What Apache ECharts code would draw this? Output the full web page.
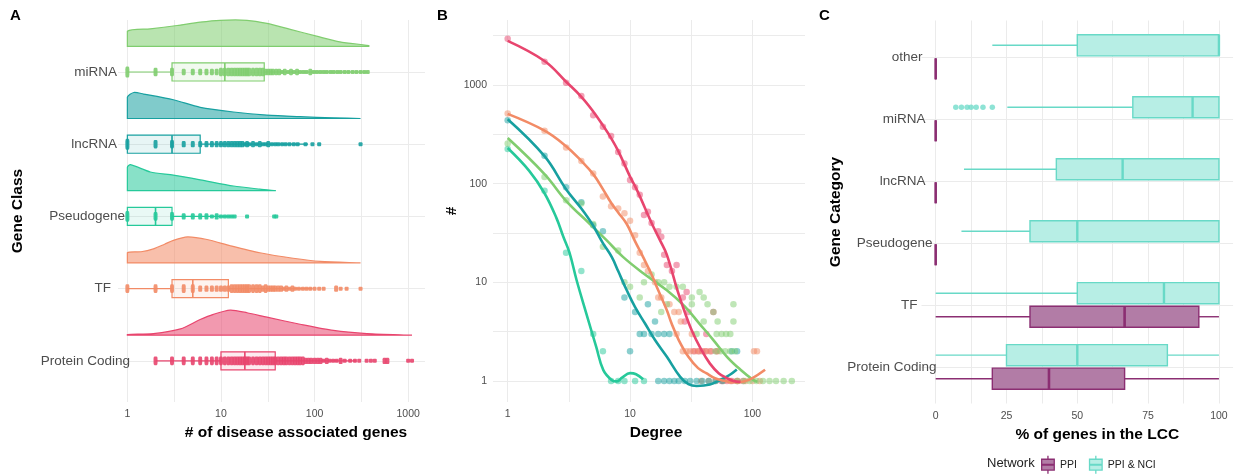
<!DOCTYPE html>
<html>
<head>
<meta charset="utf-8">
<script src="https://cdn.jsdelivr.net/npm/echarts@6/dist/echarts.min.js"></script>
<style>
  html, body { margin: 0; padding: 0; background: #ffffff; }
  #chart { width: 1235px; height: 475px; }
</style>
</head>
<body>
<div id="chart"></div>
<script>
// ---------- Panel A: disease-associated genes per gene class ----------
const geneClasses = ['Protein Coding', 'TF', 'Pseudogene', 'lncRNA', 'miRNA'];
const classColors = ['#e8456e', '#f28b66', '#26c99a', '#17a0a0', '#80cd6f'];

// box summaries: [min, q1, median, q3, upper whisker]
const pcBox = [2, 10, 18, 38, 280];
const tfBox = [1, 3, 5, 12, 95];
const pseudoBox = [1, 1, 2, 3, 14];
const lncBox = [1, 1, 3, 6, 85];
const mirBox = [1, 3, 11, 29, 370];

// density outlines: [genes, relative height]
const pcDensity = [[1, 0.025], [1.9, 0.06], [3.7, 0.24], [6, 0.6], [8.3, 0.8], [12.6, 0.96], [19, 0.86], [31, 0.69], [70, 0.42], [159, 0.18], [363, 0.06], [1100, 0]];
const tfDensity = [[1, 0.39], [1.4, 0.43], [1.9, 0.54], [2.5, 0.72], [3.1, 0.87], [4.4, 1], [7.1, 0.9], [12.6, 0.66], [26, 0.39], [59, 0.18], [115, 0.06], [310, 0]];
const pseudoDensity = [[1, 0.9], [1.08, 1], [1.76, 0.72], [3.1, 0.6], [6, 0.42], [13.6, 0.18], [26, 0.06], [38.6, 0]];
const lncDensity = [[1, 0.82], [1.17, 1], [1.49, 0.94], [3.1, 0.72], [6, 0.43], [13.6, 0.25], [31, 0.13], [70, 0.07], [159, 0.025], [310, 0]];
const mirDensity = [[1, 0.58], [1.76, 0.67], [3.4, 0.8], [6, 0.93], [9.8, 1], [19, 1], [31, 0.88], [55, 0.65], [105, 0.39], [186, 0.17], [380, 0.03]];

// observed genes per disease: [genes, number of diseases stacked there]
const pcPoints = [[2, 3], [3, 3], [4, 3], [5, 3], [6, 3], [7, 3], [8, 3], [9, 3], [10, 3], [11, 3], [12, 3], [13, 3], [14, 3], [15, 3], [16, 3], [17, 3], [18, 3], [19, 3], [20, 3], [22, 3], [24, 3], [26, 3], [28, 3], [30, 3], [32, 3], [34, 3], [36, 3], [38, 3], [41, 3], [44, 3], [47, 3], [50, 3], [54, 3], [58, 3], [62, 3], [66, 3], [70, 3], [75, 3], [80, 2], [86, 2], [92, 2], [100, 2], [108, 2], [116, 2], [125, 1], [135, 2], [145, 1], [158, 1], [172, 1], [190, 2], [210, 1], [240, 1], [270, 1], [300, 1], [360, 1], [400, 1], [440, 1], [560, 2], [600, 2], [1000, 1], [1100, 1]];
const tfPoints = [[1, 3], [2, 3], [3, 3], [4, 3], [5, 3], [6, 2], [7, 2], [8, 2], [9, 2], [10, 2], [11, 2], [12, 2], [13, 3], [14, 3], [15, 3], [16, 3], [17, 3], [18, 3], [19, 3], [20, 3], [22, 3], [24, 3], [26, 3], [28, 2], [30, 3], [32, 2], [34, 2], [36, 2], [38, 2], [41, 2], [44, 2], [47, 1], [50, 2], [54, 1], [58, 2], [62, 1], [68, 1], [75, 1], [82, 1], [90, 1], [100, 1], [112, 1], [125, 1], [170, 2], [190, 1], [220, 1], [310, 1]];
const pseudoPoints = [[1, 4], [2, 3], [3, 3], [4, 2], [5, 2], [6, 2], [7, 2], [8, 1], [9, 2], [10, 1], [11, 1], [12, 1], [13, 1], [14, 1], [19, 1], [37, 1], [39, 1]];
const lncPoints = [[1, 4], [2, 3], [3, 3], [4, 2], [5, 2], [6, 2], [7, 2], [8, 2], [9, 2], [10, 2], [11, 2], [12, 2], [13, 2], [14, 2], [15, 2], [16, 2], [17, 2], [18, 1], [19, 2], [20, 1], [22, 2], [24, 1], [26, 2], [28, 1], [30, 1], [32, 2], [35, 1], [38, 1], [41, 1], [45, 1], [49, 1], [54, 1], [60, 1], [66, 1], [80, 1], [95, 1], [112, 1], [310, 1]];
const mirPoints = [[1, 4], [2, 3], [3, 3], [4, 2], [5, 2], [6, 2], [7, 2], [8, 2], [9, 2], [10, 3], [11, 3], [12, 3], [13, 3], [14, 3], [15, 3], [16, 3], [17, 3], [18, 3], [19, 3], [20, 3], [22, 3], [24, 3], [26, 3], [28, 3], [30, 2], [32, 2], [34, 2], [36, 2], [39, 2], [42, 2], [45, 1], [48, 2], [52, 1], [56, 2], [60, 1], [65, 2], [70, 1], [76, 1], [82, 1], [90, 2], [98, 1], [106, 1], [115, 1], [125, 1], [135, 1], [148, 1], [160, 1], [175, 1], [190, 1], [210, 1], [230, 1], [255, 1], [280, 1], [310, 1], [340, 1], [370, 1]];

// ---------- Panel B: degree distributions (degree, number of genes) ----------
const pcDegree = [[1, 2940], [2, 1720], [3, 1055], [4, 775], [5, 494], [6, 377], [7, 305], [8, 210], [9, 160], [10, 109], [11, 92], [12, 77], [13, 48], [14, 52], [15, 40], [17, 33], [18, 29], [19, 19], [20, 15], [22, 13], [24, 15], [29, 8], [27, 7], [30, 5], [48, 5], [28, 4], [42, 3], [33, 2], [36, 2], [39, 2], [42, 2], [46, 2], [51, 2], [56, 1], [62, 1], [68, 1], [75, 1], [84, 1]];
const tfDegree = [[1, 513], [2, 343], [3, 233], [4, 170], [5, 127], [6, 74], [7, 59], [8, 56], [9, 50], [10, 42], [11, 30], [12, 20], [13, 15], [14, 13], [16, 10], [17, 7], [18, 7], [21, 6], [23, 5], [25, 5], [26, 4], [24, 3], [32, 3], [27, 2], [29, 2], [31, 2], [34, 2], [37, 2], [41, 2], [45, 2], [52, 2], [103, 2], [109, 2], [38, 1], [44, 1], [50, 1], [58, 1], [66, 1], [76, 1], [88, 1], [100, 1], [115, 1]];
const lncDegree = [[1, 440], [2, 192], [3, 92], [4, 65], [5, 38], [6, 33], [9, 7], [14, 6], [11, 5], [16, 4], [12, 3], [13, 3], [15, 3], [17, 3], [19, 3], [21, 3], [10, 2], [68, 2], [75, 2], [17, 1], [19, 1], [21, 1], [23, 1], [25, 1], [28, 1], [31, 1], [35, 1], [39, 1], [44, 1], [50, 1], [57, 1]];
const pseudoDegree = [[1, 224], [2, 85], [3, 20], [4, 13], [5, 3], [6, 2], [7, 1], [8, 1], [9, 1], [11, 1], [13, 1]];
const mirDegree = [[1, 255], [2, 117], [3, 68], [4, 63], [5, 39], [6, 23], [8, 21], [9, 10], [10, 9], [12, 7], [13, 10], [15, 12], [17, 10], [19, 10], [21, 9], [24, 9], [27, 9], [32, 7], [37, 8], [40, 7], [18, 5], [20, 6], [32, 6], [43, 6], [70, 6], [48, 5], [40, 4], [52, 4], [70, 4], [35, 3], [51, 3], [56, 3], [61, 3], [66, 3], [50, 2], [55, 2], [60, 2], [66, 2], [72, 2], [75, 1], [85, 1], [95, 1], [108, 1], [122, 1], [138, 1], [156, 1], [180, 1], [210, 1]];

// smoothed trends through each distribution
const pcTrend = [[1, 2800], [2, 1750], [3, 1080], [4, 760], [5, 540], [6, 390], [7, 290], [8, 215], [10, 118], [11.5, 84], [15, 40], [17.6, 26.6], [20, 19], [24.4, 8.3], [28, 5], [31.9, 3.27], [38, 2.1], [45, 1.5], [53, 1.2], [62, 1.07], [70, 1.0], [80, 0.98]];
const tfTrend = [[1, 510], [2, 345], [3, 240], [4, 170], [5, 125], [6, 88], [7, 64], [8, 51], [9.4, 39], [11, 26], [12.8, 18], [15, 12], [17, 8.3], [20, 5.2], [21.9, 3.8], [25, 2.6], [30, 1.76], [36, 1.35], [42, 1.2], [50, 1.06], [60, 1.0], [70, 0.97], [85, 0.99], [100, 1.07], [127, 1.3]];
const lncTrend = [[1, 450], [2, 190], [3, 88], [4, 56], [4.9, 39], [6, 25], [7.1, 18], [8, 13], [9.4, 8.3], [11, 5.6], [13.3, 3.8], [16, 2.6], [20, 1.76], [25.7, 1.1], [30, 0.93], [35, 0.89], [45, 0.92], [55, 1.03], [65, 1.15], [74.6, 1.31]];
const pseudoTrend = [[1, 230], [1.5, 135], [2, 80], [2.5, 45], [2.85, 29], [3.2, 20], [3.66, 10.5], [4.4, 4.8], [5.3, 2.2], [6.05, 1.29], [7.1, 1.02], [7.8, 0.99], [8.6, 1.08], [10, 1.2], [11.2, 1.17], [12.8, 1.04]];
const mirTrend = [[1, 290], [2, 125], [3, 67], [4.7, 39], [6.45, 26.6], [8.8, 18], [12.9, 12.3], [20, 8.3], [28, 5.7], [37, 3.8], [48, 2.6], [62, 1.76], [80, 1.3], [102, 1.02], [110, 0.98]];

// ---------- Panel C: % of genes in the LCC ----------
const lccCategories = ['Protein Coding', 'TF', 'Pseudogene', 'lncRNA', 'miRNA', 'other'];
// [min, q1, median, q3, max] per category, bottom to top
const ppiStats = [[0, 20, 40, 66.7, 100], [0, 33.3, 66.7, 92.9, 100], [0, 0, 0, 0, 0], [0, 0, 0, 0, 0], [0, 0, 0, 0, 0], [0, 0, 0, 0, 0]];
const ppiNciStats = [[0, 25, 50, 81.8, 100], [0, 50, 80.6, 100, 100], [9.1, 33.3, 50, 100, 100], [10, 42.6, 66, 100, 100], [25.3, 69.6, 90.7, 100, 100], [20, 50, 100, 100, 100]];
const mirOutliers = [7.1, 9.1, 11.1, 12.5, 14.3, 16.7, 20];

// tick positions
const logTicksA = [0, 0.5, 1, 1.5, 2, 2.5, 3];
const logLabelsA = [0, 1, 2, 3];
const logTicksBx = [0, 0.5, 1, 1.5, 2];
const logLabelsBx = [0, 1, 2];
const logTicksBy = [0, 0.5, 1, 1.5, 2, 2.5, 3, 3.5];
const logLabelsBy = [0, 1, 2, 3];
const pctTicks = [0, 12.5, 25, 37.5, 50, 62.5, 75, 87.5, 100];
const pctLabels = [0, 25, 50, 75, 100];

// ---------- styling helpers ----------
const FONT = '"Liberation Sans", Arial, Helvetica, sans-serif';
const GRID_LINE = { show: true, lineStyle: { color: '#ebebeb', width: 1 } };
const TICK_TEXT = { color: '#4d4d4d', fontSize: 10.5, fontFamily: FONT };
const TITLE_TEXT = { color: '#000', fontSize: 15.5, fontWeight: 'bold', fontFamily: FONT };
const RIDGE_OFFSET = 0.356;
const RIDGE_HEIGHT = 0.36;
const A_BOX_HALF = 0.125;
const C_BOX_HALF = 0.17;
const C_DODGE = 0.19;
const PPI_STROKE = '#8b2e72', PPI_FILL = '#b27ca6';
const NCI_STROKE = '#68d9c7', NCI_FILL = '#b7eee5';

function tint(hex, a) {
  const n = parseInt(hex.slice(1), 16);
  return `rgba(${(n >> 16) & 255},${(n >> 8) & 255},${n & 255},${a})`;
}
const log10 = Math.log10;
const powLabel = v => String(Math.round(Math.pow(10, v)));

const classBoxes = [pcBox, tfBox, pseudoBox, lncBox, mirBox];
const classDensities = [pcDensity, tfDensity, pseudoDensity, lncDensity, mirDensity];
const classPoints = [pcPoints, tfPoints, pseudoPoints, lncPoints, mirPoints];
const classDegrees = [pcDegree, tfDegree, pseudoDegree, lncDegree, mirDegree];
const classTrends = [pcTrend, tfTrend, pseudoTrend, lncTrend, mirTrend];

// a horizontal box with whiskers, positioned through the axis scales
function drawBox(api, o) {
  const cat = api.value(0);
  const v = [api.value(1), api.value(2), api.value(3), api.value(4), api.value(5)];
  const unit = api.size([0, 1])[1];
  const yc = api.coord([v[2], cat + o.offset])[1];
  const half = o.half * unit;
  const px = v.map(d => api.coord([d, cat])[0]);
  const line = (x1, y1, x2, y2, w) => ({ type: 'line', shape: { x1, y1, x2, y2 }, style: { stroke: o.stroke, lineWidth: w } });
  return {
    type: 'group',
    children: [
      line(px[0], yc, px[1], yc, o.lw),
      line(px[3], yc, px[4], yc, o.lw),
      { type: 'rect', shape: { x: px[1], y: yc - half, width: px[3] - px[1], height: 2 * half }, style: { fill: o.fill, stroke: o.stroke, lineWidth: o.lw } },
      line(px[2], yc - half, px[2], yc + half, o.medianLw)
    ]
  };
}

function drawRidge(params, api) {
  const i = api.value(0);
  const curve = classDensities[i];
  const unit = api.size([0, 1])[1];
  const base = api.coord([0, i])[1] - RIDGE_OFFSET * unit;
  const top = curve.map(([g, h]) => [api.coord([log10(g), i])[0], base - h * RIDGE_HEIGHT * unit]);
  const x0 = top[0][0], x1 = top[top.length - 1][0];
  const pts = [[x0, base]].concat(top, [[x1, base]]);
  return {
    type: 'polygon',
    shape: { points: pts, smooth: 0.25, smoothConstraint: [[x0, base - RIDGE_HEIGHT * unit - 1], [x1, base]] },
    style: { fill: tint(classColors[i], 0.55), stroke: classColors[i], lineWidth: 1.2 }
  };
}

const series = [];

// Panel A: ridges, boxes, points
series.push({
  type: 'custom', xAxisIndex: 0, yAxisIndex: 0, clip: false, silent: true,
  data: geneClasses.map((c, i) => [i, 0]),
  encode: { x: 1, y: 0 },
  renderItem: drawRidge
});
series.push({
  type: 'custom', xAxisIndex: 0, yAxisIndex: 0, silent: true,
  data: classBoxes.map((b, i) => [i].concat(b.map(log10))),
  encode: { x: [1, 2, 3, 4, 5], y: 0 },
  renderItem: (params, api) => {
    const c = classColors[api.value(0)];
    return drawBox(api, { offset: 0, half: A_BOX_HALF, stroke: c, fill: tint(c, 0.1), lw: 1.2, medianLw: 1.6 });
  }
});
classPoints.forEach((pts, i) => {
  series.push({
    type: 'scatter', xAxisIndex: 0, yAxisIndex: 0, silent: true,
    symbol: 'roundRect',
    symbolSize: v => [4, 4 + (v[2] - 1) * 2.3],
    itemStyle: { color: classColors[i], opacity: 0.9 },
    data: pts.map(([g, n]) => [log10(g), i, n])
  });
});

// Panel B: points and trend lines
classDegrees.forEach((pts, i) => {
  series.push({
    type: 'scatter', xAxisIndex: 1, yAxisIndex: 1, silent: true,
    symbolSize: 6.5,
    itemStyle: { color: classColors[i], opacity: 0.5 },
    data: pts.map(([d, n]) => [log10(d), log10(n)])
  });
});
[4, 2, 3, 1, 0].forEach(i => {
  series.push({
    type: 'line', xAxisIndex: 1, yAxisIndex: 1, silent: true,
    smooth: 0.4, showSymbol: false,
    lineStyle: { color: classColors[i], width: 2.6 },
    data: classTrends[i].map(([d, n]) => [log10(d), log10(n)])
  });
});

// Panel C: dodged boxes per network
series.push({
  name: 'PPI & NCI', type: 'custom', xAxisIndex: 2, yAxisIndex: 2, silent: true,
  data: ppiNciStats.map((s, i) => [i + 1].concat(s)),
  encode: { x: [1, 2, 3, 4, 5], y: 0 },
  itemStyle: { color: NCI_FILL, borderColor: NCI_STROKE },
  renderItem: (params, api) => drawBox(api, { offset: C_DODGE, half: C_BOX_HALF, stroke: NCI_STROKE, fill: NCI_FILL, lw: 1.4, medianLw: 2.4 })
});
series.push({
  name: 'PPI & NCI', type: 'scatter', xAxisIndex: 2, yAxisIndex: 2, silent: true,
  symbolSize: 5.5,
  itemStyle: { color: NCI_STROKE, opacity: 0.75 },
  data: mirOutliers.map(v => [v, 5 + C_DODGE])
});
series.push({
  name: 'PPI', type: 'custom', xAxisIndex: 2, yAxisIndex: 2, silent: true,
  data: ppiStats.map((s, i) => [i + 1].concat(s)),
  encode: { x: [1, 2, 3, 4, 5], y: 0 },
  itemStyle: { color: PPI_FILL, borderColor: PPI_STROKE },
  renderItem: (params, api) => drawBox(api, { offset: -C_DODGE, half: C_BOX_HALF, stroke: PPI_STROKE, fill: PPI_FILL, lw: 1.4, medianLw: 2.6 })
});

// category label nudges (right padding, px)
const aLabelPad = [0, 19, 5, 13, 13];
const cLabelPad = [0, 19, 4, 11, 11, 14];
function richFor(pads) {
  const r = {};
  pads.forEach((p, i) => { r['c' + i] = { padding: [0, p, 0, 0], color: '#4d4d4d', fontSize: 13.5, fontFamily: FONT }; });
  return r;
}

// box-and-whisker key glyph: whisker stubs, box, median bar
const boxIcon = 'path://M7,0 L7,4 M0,4 L14,4 L14,16 L0,16 Z M7,16 L7,20 M0,9.6 L14,9.6 L14,10.4 L0,10.4 Z';

const option = {
  animation: false,
  backgroundColor: '#ffffff',
  textStyle: { fontFamily: FONT },
  grid: [
    { left: 118, top: 20, width: 307, height: 382 },
    { left: 493, top: 20, width: 312, height: 382 },
    { left: 921.5, top: 20.5, width: 311.6, height: 383 }
  ],
  xAxis: [
    {
      gridIndex: 0, type: 'value', min: -0.1, max: 3.18,
      axisLine: { show: false }, axisTick: { show: false, customValues: logTicksA },
      splitLine: GRID_LINE,
      axisLabel: Object.assign({ customValues: logLabelsA, formatter: powLabel, margin: 7 }, TICK_TEXT),
      name: '# of disease associated genes', nameLocation: 'middle', nameGap: 19,
      nameTextStyle: Object.assign({ padding: [0, 0, 0, 49] }, TITLE_TEXT)
    },
    {
      gridIndex: 1, type: 'value', min: -0.12, max: 2.43,
      axisLine: { show: false }, axisTick: { show: false, customValues: logTicksBx },
      splitLine: GRID_LINE,
      axisLabel: Object.assign({ customValues: logLabelsBx, formatter: powLabel, margin: 7 }, TICK_TEXT),
      name: 'Degree', nameLocation: 'middle', nameGap: 19,
      nameTextStyle: Object.assign({ padding: [0, 0, 0, 14] }, TITLE_TEXT)
    },
    {
      gridIndex: 2, type: 'value', min: -5, max: 105,
      axisLine: { show: false }, axisTick: { show: false, customValues: pctTicks },
      splitLine: GRID_LINE,
      axisLabel: Object.assign({ customValues: pctLabels, margin: 7 }, TICK_TEXT),
      name: '% of genes in the LCC', nameLocation: 'middle', nameGap: 19,
      nameTextStyle: Object.assign({ padding: [0, 0, 0, 40] }, TITLE_TEXT)
    }
  ],
  yAxis: [
    {
      gridIndex: 0, type: 'value', min: -0.57, max: 4.72,
      axisLine: { show: false }, axisTick: { show: false, customValues: [0, 1, 2, 3, 4] },
      splitLine: GRID_LINE,
      axisLabel: {
        customValues: [0, 1, 2, 3, 4], margin: -12,
        formatter: v => `{c${v}|${geneClasses[v]}}`, rich: richFor(aLabelPad)
      },
      name: 'Gene Class', nameLocation: 'middle', nameGap: 92, nameRotate: 90,
      nameTextStyle: TITLE_TEXT
    },
    {
      gridIndex: 1, type: 'value', min: -0.213, max: 3.659,
      axisLine: { show: false }, axisTick: { show: false, customValues: logTicksBy },
      splitLine: GRID_LINE,
      axisLabel: Object.assign({ customValues: logLabelsBy, formatter: powLabel, margin: 6 }, TICK_TEXT),
      name: '#', nameLocation: 'middle', nameGap: 33, nameRotate: 90,
      nameTextStyle: TITLE_TEXT
    },
    {
      gridIndex: 2, type: 'value', min: 0.41, max: 6.59,
      axisLine: { show: false }, axisTick: { show: false, customValues: [1, 2, 3, 4, 5, 6] },
      splitLine: GRID_LINE,
      axisLabel: {
        customValues: [1, 2, 3, 4, 5, 6], margin: -15,
        formatter: v => `{c${v - 1}|${lccCategories[v - 1]}}`, rich: richFor(cLabelPad)
      },
      name: 'Gene Category', nameLocation: 'middle', nameGap: 73, nameRotate: 90,
      nameTextStyle: TITLE_TEXT
    }
  ],
  legend: {
    left: 1041, top: 455, orient: 'horizontal', padding: 0,
    itemWidth: 14, itemHeight: 18, itemGap: 12,
    selectedMode: false,
    textStyle: { fontSize: 10.5, color: '#222', fontFamily: FONT },
    data: [
      { name: 'PPI', icon: boxIcon, itemStyle: { color: PPI_FILL, borderColor: PPI_STROKE, borderWidth: 1.3 } },
      { name: 'PPI & NCI', icon: boxIcon, itemStyle: { color: NCI_FILL, borderColor: NCI_STROKE, borderWidth: 1.3 } }
    ]
  },
  graphic: [
    { type: 'text', left: 10, top: 8, style: { text: 'A', fontSize: 15, fontWeight: 'bold', fill: '#000', fontFamily: FONT } },
    { type: 'text', left: 437, top: 8, style: { text: 'B', fontSize: 15, fontWeight: 'bold', fill: '#000', fontFamily: FONT } },
    { type: 'text', left: 819, top: 8, style: { text: 'C', fontSize: 15, fontWeight: 'bold', fill: '#000', fontFamily: FONT } },
    { type: 'text', left: 987, top: 457, style: { text: 'Network', fontSize: 13, fill: '#222', fontFamily: FONT } }
  ],
  series: series
};

const chart = echarts.init(document.getElementById('chart'));
chart.setOption(option);
</script>
</body>
</html>
